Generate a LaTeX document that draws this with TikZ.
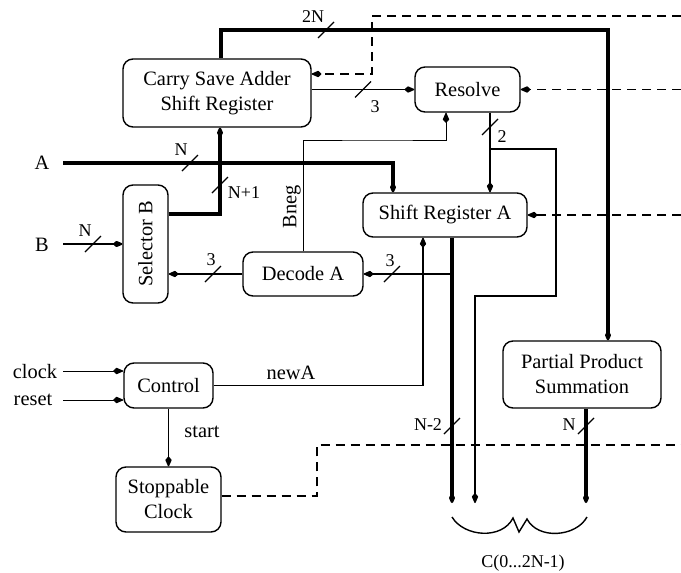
\documentclass[tikz,border=0pt]{standalone}
\usepackage{fontspec}
\setmainfont{Liberation Serif}
\usetikzlibrary{arrows.meta}
\begin{document}
\begin{tikzpicture}[x=1pt,y=-1pt,
  blk/.style={draw, line width=1.4pt, rounded corners=10pt, align=center,
              font=\fontsize{20.4}{25}\selectfont, inner sep=0pt},
  sig/.style={line width=1.4pt},
  thinsig/.style={line width=0.9pt},
  bus/.style={line width=3.2pt},
  dsh/.style={line width=1.3pt, dash pattern=on 9pt off 6pt},
  tk/.style={line width=1.3pt},
  lbl/.style={font=\fontsize{20.4}{24}\selectfont, inner sep=0pt},
  sml/.style={font=\fontsize{18}{21}\selectfont, inner sep=0pt},
  >={Kite[length=11pt,width=6.5pt,inset=3.5pt,round]},
]
\useasboundingbox (0,0) rectangle (681,573);
\fill[white] (0,0) rectangle (681,573);

% ---- blocks ----
\node[blk, minimum width=188pt, minimum height=68pt] (csa) at (217,93)
  {Carry Save Adder\\Shift Register};
\node[blk, minimum width=105pt, minimum height=45pt] (res) at (467.5,89.5) {Resolve};
\node[blk, minimum width=45pt, minimum height=118pt] (selB) at (145.5,244) {};
\node[lbl, rotate=90] (selBtxt) at (selB) {Selector B};
\node[blk, minimum width=164pt, minimum height=44pt] (sra) at (445,215) {Shift Register A};
\node[blk, minimum width=120pt, minimum height=44pt] (dec) at (303,274) {Decode A};
\node[blk, minimum width=158pt, minimum height=67pt] (pps) at (582,374.5)
  {Partial Product\\Summation};
\node[blk, minimum width=89pt, minimum height=45pt] (ctl) at (168.5,385.5) {Control};
\node[blk, minimum width=105pt, minimum height=65pt] (stc) at (168.5,499.5)
  {Stoppable\\Clock};

% ---- inputs and outputs ----
\node[lbl] (lA) at (42,163) {A};
\node[lbl] (lB) at (42,245) {B};
\node[lbl] (lclk) at (35,372) {clock};
\node[lbl] (lrst) at (33,400) {reset};
\coordinate (aIn) at (63,163);
\coordinate (bIn) at (63,244);
\coordinate (clkIn) at (63,371);
\coordinate (rstIn) at (63,400);
\coordinate (o1) at (452,503);
\coordinate (o2) at (475,503);
\coordinate (o3) at (586,503);
\coordinate (eTop) at (681,16);
\coordinate (eRes) at (681,89.5);
\coordinate (eSra) at (681,215);
\coordinate (eClk) at (681,445);
\coordinate (br) at (490,149);
\coordinate (tap) at (452,274);

% ---- 2N bus from the adder to the summation ----
\draw[bus,->] ([xshift=4pt]csa.north) |- (400,30) -| ([xshift=26pt]pps.north);
\draw[tk] (326,30) ++(-8,8) -- ++(16,-16);
\node[sml] (l2N) at (313,17) {2N};

% ---- dashed clock lines ----
\draw[dsh,->] (eTop) -- (372,16) -- (372,74) -- (csa.east |- 0,74);
\draw[dsh,->] (eRes) -- (res.east);
\draw[dsh,->] (eSra) -- (sra.east);
\draw[dsh] (stc.east |- 0,496) -- (317,496) -- (317,445) -- (eClk);

% ---- adder to resolve ----
\draw[sig,->] (csa.east |- res.west) -- (res.west);
\draw[tk] (363,89.5) ++(-8,8) -- ++(16,-16);
\node[sml] (l3a) at (375,107) {3};

% ---- resolve to shift register A ----
\draw[sig,->] ([xshift=22.5pt]res.south) -- ([xshift=45pt]sra.north);
\draw[tk] (490,127) ++(-8,8) -- ++(16,-16);
\node[sml] (l2) at (502,137) {2};
\draw[sig,->] (br) -- (556,149) -- (556,296) -- (475,296) -- (o2);

% ---- Bneg ----
\draw[thinsig,->] (dec.north) |- (380,140) -| ([xshift=-21.5pt]res.south);
\node[lbl, rotate=90] (lBneg) at (292,207) {Bneg};

% ---- A input ----
\draw[bus,->] (aIn) -| ([xshift=-52pt]sra.north);
\draw[tk] (190,163) ++(-8,8) -- ++(16,-16);
\node[sml] (lNa) at (181,150) {N};

% ---- selector B to adder ----
\draw[bus,->] ([yshift=30pt]selB.east) -| ([xshift=3pt]csa.south);
\draw[tk] (220,185) ++(-8,8) -- ++(16,-16);
\node[sml] (lN1) at (244,193) {N+1};

% ---- B input ----
\draw[line width=2pt,->] (bIn) -- (selB.west |- bIn);
\draw[tk] (93,244) ++(-8,8) -- ++(16,-16);
\node[sml] (lNb) at (85,231) {N};

% ---- shift register A outputs ----
\draw[bus,->] ([xshift=7pt]sra.south) -- (o1);
\draw[sig,->] (tap) -- (dec.east);
\draw[tk] (392,274) ++(-8,8) -- ++(16,-16);
\node[sml] (l3b) at (390,261) {3};
\draw[sig,->] (dec.west) -- (selB.east |- dec.west);
\draw[tk] (213,274) ++(-8,8) -- ++(16,-16);
\node[sml] (l3c) at (211,260) {3};
\draw[tk] (452,426) ++(-8,8) -- ++(16,-16);
\node[sml] (lN2) at (428,425) {N-2};

% ---- summation output ----
\draw[bus,->] ([xshift=4pt]pps.south) -- (o3);
\draw[tk] (586,426) ++(-8,8) -- ++(16,-16);
\node[sml] (lNc) at (569,425) {N};

% ---- control ----
\draw[thinsig,->] (clkIn) -- (ctl.west |- clkIn);
\draw[thinsig,->] (rstIn) -- (ctl.west |- rstIn);
\draw[sig,->] (ctl.east) -| ([xshift=-22pt]sra.south);
\node[lbl] (lnewA) at (291,373) {newA};
\draw[sig,->] (ctl.south) -- (stc.north);
\node[lbl] (lstart) at (202,432) {start};

% ---- result brace ----
\draw[sig] (452,517) .. controls (464,537) and (502,540) .. (513,518)
  -- (519,532) -- (527,519) .. controls (538,540) and (576,537) .. (587,517);
\node[sml] (lC) at (523,563) {C(0...2N-1)};
\end{tikzpicture}
\end{document}
